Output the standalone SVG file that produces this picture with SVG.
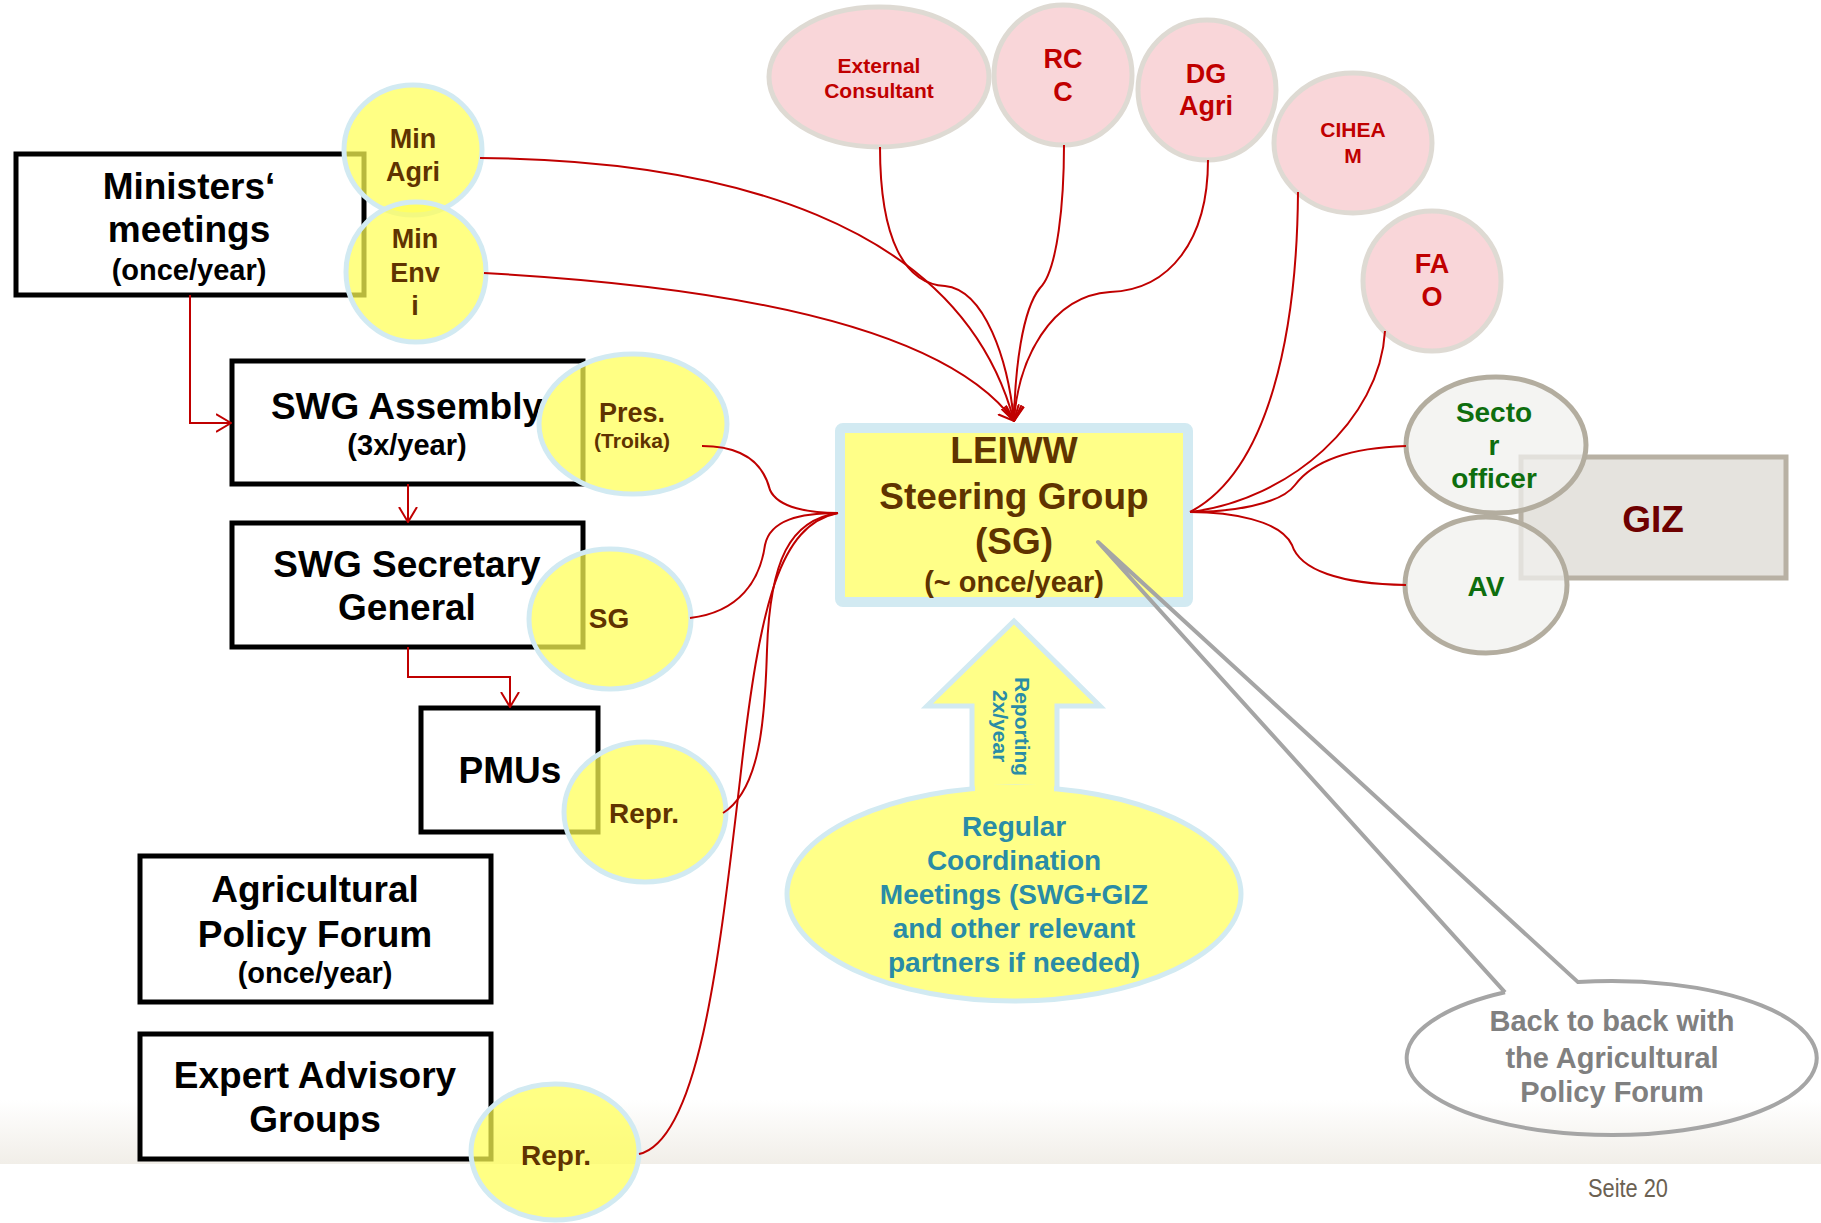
<svg xmlns="http://www.w3.org/2000/svg" width="1821" height="1223" viewBox="0 0 1821 1223">
<style>
text{font-family:"Liberation Sans",Arial,sans-serif;font-weight:bold;text-anchor:middle}
.box{fill:#fff;stroke:#000;stroke-width:5}
.yel{fill:#FFFF55;fill-opacity:.72;stroke:#D2EAF2;stroke-width:5}
.pink{fill:#F9D6D9;stroke:#DEDAD3;stroke-width:5}
.grey{fill:#F0F0EE;fill-opacity:.75;stroke:#B3AD9F;stroke-width:5}
.k{fill:#000}
.br{fill:#5F3300}
.rd{fill:#C00000}
.gr{fill:#0E6E0E}
.tl{fill:#2A8CA6}
.f37{font-size:37px}
.f29{font-size:29px}
.f28{font-size:28px}
.f27{font-size:27px}
.f21{font-size:21px}
.vt{font-size:21px;text-anchor:start}
.con{fill:none;stroke:#C00000;stroke-width:2}
</style>
<defs>
<marker id="arr" viewBox="0 0 16 20" refX="15" refY="10" markerWidth="16" markerHeight="20" orient="auto" markerUnits="userSpaceOnUse">
<path d="M0,1 L15,10 L0,19" fill="none" stroke="#C00000" stroke-width="2"/>
</marker>
<linearGradient id="band" x1="0" y1="0" x2="0" y2="1">
<stop offset="0" stop-color="#FFFFFF"/>
<stop offset="1" stop-color="#F1EEE8"/>
</linearGradient>
</defs>

<rect x="0" y="0" width="1821" height="1223" fill="#fff"/>
<rect x="0" y="1100" width="1821" height="64" fill="url(#band)"/>

<g id="ministers">
<rect class="box" x="16" y="154" width="348" height="141"/>
<text class="k f37" x="189" y="199">Ministers‘</text>
<text class="k f37" x="189" y="242">meetings</text>
<text class="k f29" x="189" y="280">(once/year)</text>
</g>
<g id="min-agri">
<ellipse class="yel" cx="413" cy="150" rx="69" ry="65"/>
<text class="br f27" x="413" y="148">Min</text>
<text class="br f27" x="413" y="181">Agri</text>
</g>
<g id="min-env">
<ellipse class="yel" cx="416" cy="272" rx="70" ry="70"/>
<text class="br f27" x="415" y="248">Min</text>
<text class="br f27" x="415" y="282">Env</text>
<text class="br f27" x="415" y="315">i</text>
</g>

<g id="swg-assembly">
<rect class="box" x="232" y="361" width="351" height="123"/>
<text class="k f37" x="407" y="419">SWG Assembly</text>
<text class="k f29" x="407" y="455">(3x/year)</text>
</g>
<g id="pres">
<ellipse class="yel" cx="633" cy="424" rx="94" ry="70"/>
<text class="br f27" x="632" y="422">Pres.</text>
<text class="br f21" x="632" y="448">(Troika)</text>
</g>

<g id="swg-secretary">
<rect class="box" x="232" y="523" width="351" height="124"/>
<text class="k f37" x="407" y="577">SWG Secretary</text>
<text class="k f37" x="407" y="620">General</text>
</g>
<g id="sg">
<ellipse class="yel" cx="610" cy="619" rx="81" ry="70"/>
<text class="br f28" x="609" y="628">SG</text>
</g>

<g id="pmus">
<rect class="box" x="421" y="708" width="177" height="124"/>
<text class="k f37" x="510" y="783">PMUs</text>
</g>
<g id="pmu-repr">
<ellipse class="yel" cx="645" cy="812" rx="81" ry="70"/>
<text class="br f28" x="644" y="823">Repr.</text>
</g>

<g id="apf">
<rect class="box" x="140" y="856" width="351" height="146"/>
<text class="k f37" x="315" y="902">Agricultural</text>
<text class="k f37" x="315" y="947">Policy Forum</text>
<text class="k f29" x="315" y="983">(once/year)</text>
</g>

<g id="expert">
<rect class="box" x="140" y="1034" width="351" height="125"/>
<text class="k f37" x="315" y="1088">Expert Advisory</text>
<text class="k f37" x="315" y="1132">Groups</text>
</g>
<g id="expert-repr">
<ellipse class="yel" cx="555" cy="1152" rx="84" ry="68"/>
<text class="br f28" x="556" y="1165">Repr.</text>
</g>

<g id="external">
<ellipse class="pink" cx="879" cy="77" rx="110" ry="70"/>
<text class="rd f21" x="879" y="73">External</text>
<text class="rd f21" x="879" y="98">Consultant</text>
</g>
<g id="rcc">
<ellipse class="pink" cx="1063" cy="75" rx="69" ry="70"/>
<text class="rd f27" x="1063" y="68">RC</text>
<text class="rd f27" x="1063" y="101">C</text>
</g>
<g id="dg-agri">
<ellipse class="pink" cx="1207" cy="90" rx="69" ry="70"/>
<text class="rd f27" x="1206" y="83">DG</text>
<text class="rd f27" x="1206" y="115">Agri</text>
</g>
<g id="ciheam">
<ellipse class="pink" cx="1353" cy="143" rx="79" ry="70"/>
<text class="rd f21" x="1353" y="137">CIHEA</text>
<text class="rd f21" x="1353" y="163">M</text>
</g>
<g id="fao">
<ellipse class="pink" cx="1432" cy="281" rx="69" ry="70"/>
<text class="rd f27" x="1432" y="273">FA</text>
<text class="rd f27" x="1432" y="306">O</text>
</g>

<g id="giz">
<rect x="1521" y="457" width="265" height="121" fill="#E5E3DE" stroke="#B8B1A4" stroke-width="5"/>
<text x="1653" y="532" class="f37" fill="#6E0000">GIZ</text>
</g>
<g id="sector-officer">
<ellipse class="grey" cx="1496" cy="445" rx="90" ry="68"/>
<text class="gr f28" x="1494" y="422">Secto</text>
<text class="gr f28" x="1494" y="455">r</text>
<text class="gr f28" x="1494" y="488">officer</text>
</g>
<g id="av">
<ellipse class="grey" cx="1486" cy="585" rx="81" ry="68"/>
<text class="gr f28" x="1486" y="596">AV</text>
</g>

<g id="leiww">
<rect x="840" y="428" width="348" height="174" rx="3" fill="#FFFF88" stroke="#D2EAF2" stroke-width="10"/>
<text class="br f37" x="1014" y="463">LEIWW</text>
<text class="br f37" x="1014" y="509">Steering Group</text>
<text class="br f37" x="1014" y="554">(SG)</text>
<text class="br f29" x="1014" y="592">(~ once/year)</text>
</g>

<g id="reporting-arrow">
<polygon points="1014,621 1100,706 1057,706 1057,800 972,800 972,706 927,706" fill="#FFFF88" stroke="#D2EAF2" stroke-width="5" stroke-linejoin="miter"/>
<text class="tl vt" transform="translate(1015,677) rotate(90)" x="0" y="0">Reporting</text>
<text class="tl vt" transform="translate(993,690) rotate(90)" x="0" y="0">2x/year</text>
</g>

<g id="regular-meetings">
<ellipse cx="1014" cy="894" rx="227" ry="107" fill="#FFFF88" stroke="#D2EAF2" stroke-width="5"/>
<rect x="975" y="785" width="79" height="14" fill="#FFFF88"/>
<text class="tl f28" x="1014" y="836">Regular</text>
<text class="tl f28" x="1014" y="870">Coordination</text>
<text class="tl f28" x="1014" y="904">Meetings (SWG+GIZ</text>
<text class="tl f28" x="1014" y="938">and other relevant</text>
<text class="tl f28" x="1014" y="972">partners if needed)</text>
</g>

<g id="callout">
<path d="M1505,992.3 L1098,542 L1578,982.1 A205 77 0 1 1 1505,992.3" fill="none" stroke="#A5A5A5" stroke-width="4" stroke-linejoin="round"/>
<text class="f29" fill="#808080" x="1612" y="1031">Back to back with</text>
<text class="f29" fill="#808080" x="1612" y="1068">the Agricultural</text>
<text class="f29" fill="#808080" x="1612" y="1102">Policy Forum</text>
</g>

<g id="connectors">
<path class="con" d="M190,295 L190,423 L231,423" marker-end="url(#arr)"/>
<path class="con" d="M408,484 L408,522" marker-end="url(#arr)"/>
<path class="con" d="M408,647 L408,677 L510,677 L510,707" marker-end="url(#arr)"/>

<path class="con" d="M480,158 C720,160 960,220 1014,421" marker-end="url(#arr)"/>
<path class="con" d="M484,273 C700,285 940,320 1014,421" marker-end="url(#arr)"/>
<path class="con" d="M880,147 C880,240 905,284 945,286 C985,290 1008,360 1014,421" marker-end="url(#arr)"/>
<path class="con" d="M1064,145 C1064,200 1058,270 1040,288 C1022,310 1015,370 1014,421" marker-end="url(#arr)"/>
<path class="con" d="M1208,160 C1208,240 1170,290 1110,292 C1050,296 1018,360 1014,421" marker-end="url(#arr)"/>

<path class="con" d="M702,446 C750,446 765,470 770,490 C778,508 810,513 838,513"/>
<path class="con" d="M690,618 C740,612 760,580 765,545 C770,520 800,513 838,513"/>
<path class="con" d="M723,813 C760,790 765,720 767,650 C770,560 790,520 838,513"/>
<path class="con" d="M639,1154 C700,1140 720,950 740,780 C760,600 780,525 838,513"/>

<path class="con" d="M1298,192 C1297,330 1270,470 1190,512"/>
<path class="con" d="M1385,331 C1380,420 1290,500 1190,512"/>
<path class="con" d="M1406,446 C1340,448 1310,465 1295,485 C1280,505 1230,512 1190,512"/>
<path class="con" d="M1406,585 C1340,584 1300,570 1292,545 C1280,520 1230,512 1190,512"/>
</g>

<text x="1628" y="1197" textLength="80" lengthAdjust="spacingAndGlyphs" style="font-family:'Liberation Sans Narrow','Liberation Sans',Arial,sans-serif;font-weight:normal;font-size:25px" fill="#6B6152">Seite 20</text>
</svg>
